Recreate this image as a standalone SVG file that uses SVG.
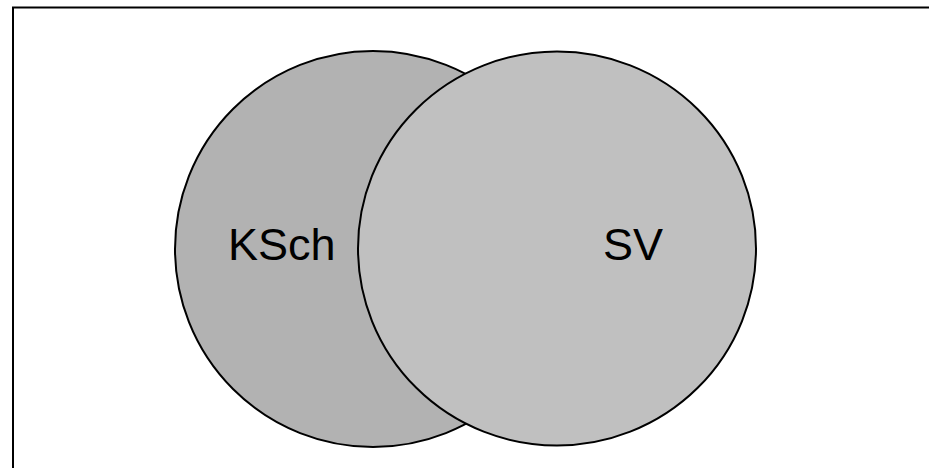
<svg xmlns="http://www.w3.org/2000/svg" width="929" height="468" viewBox="0 0 929 468">
<style>
.ring{stroke:#000;stroke-width:2}
.lbl{font-family:"Liberation Sans",Arial,sans-serif;font-size:45px;fill:#000}
</style>
<rect width="929" height="468" fill="#fff"/>
<path d="M13,468 V7.5 H929" fill="none" stroke="#000" stroke-width="2"/>
<g id="ksch">
<circle class="ring" cx="373" cy="249" r="198" fill="#b2b2b2"/>
<text class="lbl" x="228" y="260">KSch</text>
</g>
<g id="sv">
<ellipse class="ring" cx="557" cy="248.5" rx="199" ry="197" fill="#c0c0c0"/>
<text class="lbl" x="603" y="260">SV</text>
</g>
<g id="connectors"/>
</svg>
